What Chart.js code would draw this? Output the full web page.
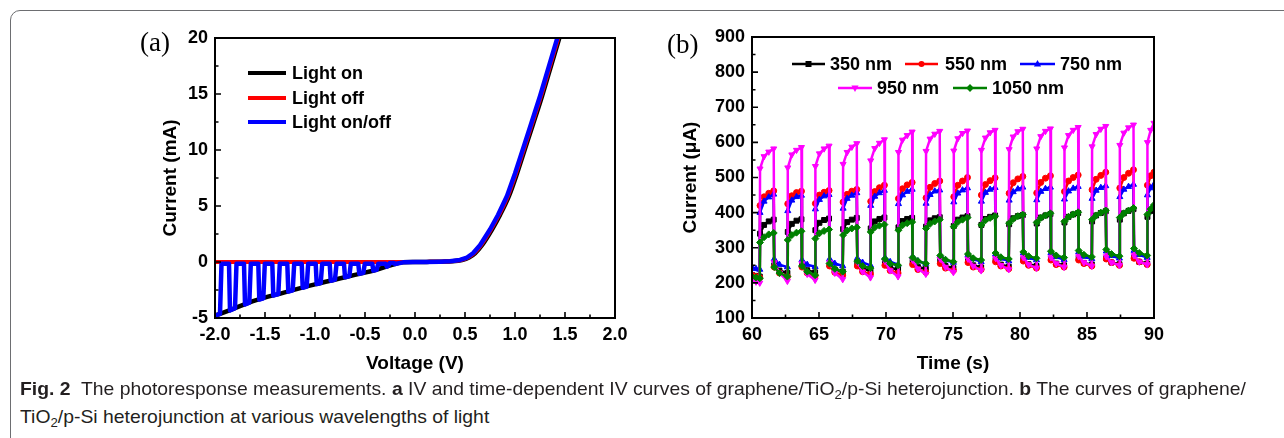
<!DOCTYPE html>
<html>
<head>
<meta charset="utf-8">
<script src="https://cdn.jsdelivr.net/npm/chart.js@4.4.0/dist/chart.umd.min.js"></script>
<style>
html, body { margin: 0; padding: 0; background: #fff; }
#page { position: relative; width: 1284px; height: 438px; overflow: hidden; background: #fff; }
#frame { position: absolute; left: 10px; top: 10px; width: 1320px; height: 480px; border: 1.5px solid #6d6e71; border-radius: 10px; box-sizing: border-box; }
#chartA { position: absolute; left: 0; top: 0; }
#chartB { position: absolute; left: 640px; top: 0; }
.cap { position: absolute; left: 20px; display: inline-block; white-space: nowrap; transform-origin: 0 0;
       font-family: "Liberation Sans Narrow", "Liberation Sans", Arial, sans-serif;
       font-size: 19px; line-height: 20px; color: #231f20; }
.cap sub { font-size: 13px; line-height: 0; vertical-align: -4px; }
</style>
</head>
<body>
<div id="page">
  <div id="frame"></div>
  <canvas id="chartA" width="640" height="380"></canvas>
  <canvas id="chartB" width="644" height="380"></canvas>
  <div class="cap" id="cap1" style="top:379px"><b>Fig. 2</b>&nbsp; The photoresponse measurements. <b>a</b> IV and time-dependent IV curves of graphene/TiO<sub>2</sub>/p-Si heterojunction. <b>b</b> The curves of graphene/</div>
  <div class="cap" id="cap2" style="top:407px">TiO<sub>2</sub>/p-Si heterojunction at various wavelengths of light</div>
</div>
<script>
// ---- panel (a): IV curves ----
const onV = [-2.0, -1.85, -1.62, -1.32, -1.0, -0.65, -0.38, -0.22, -0.12, 0.0, 0.12, 0.27, 0.37, 0.47, 0.54, 0.6, 0.67, 0.77, 0.85, 0.94, 1.02, 1.1, 1.18, 1.27, 1.35, 1.44, 1.47];
const onI = [-4.8, -4.3, -3.5, -2.75, -2.0, -1.25, -0.68, -0.22, -0.03, 0.0, 0.01, 0.03, 0.06, 0.18, 0.4, 0.78, 1.5, 2.9, 4.2, 5.9, 7.9, 10.1, 12.3, 14.8, 17.2, 19.9, 20.8];

const offV = [-2.0, -1.0, -0.12, 0.0, 0.11, 0.26, 0.36, 0.46, 0.53, 0.59, 0.66, 0.76, 0.84, 0.93, 1.01, 1.09, 1.17, 1.26, 1.34, 1.43, 1.46];
const offI = [0, 0, 0, 0.0, 0.01, 0.03, 0.06, 0.18, 0.4, 0.78, 1.5, 2.9, 4.2, 5.9, 7.9, 10.1, 12.3, 14.8, 17.2, 19.9, 20.8];

const onOffV = [-2.0,
  -1.95, -1.935, -1.86, -1.85,
  -1.80, -1.785, -1.71, -1.70,
  -1.657, -1.642, -1.567, -1.557,
  -1.517, -1.502, -1.427, -1.417,
  -1.367, -1.352, -1.277, -1.267,
  -1.223, -1.208, -1.133, -1.123,
  -1.083, -1.068, -0.993, -0.983,
  -0.943, -0.928, -0.853, -0.843,
  -0.80, -0.785, -0.71, -0.70,
  -0.657, -0.642, -0.567, -0.557,
  -0.517, -0.502, -0.427, -0.417,
  -0.383, -0.368, -0.293, -0.283,
  -0.267, -0.252, -0.21, -0.20,
  -0.12, 0.0, 0.1, 0.25, 0.35, 0.45, 0.52, 0.58, 0.65, 0.75, 0.83, 0.92, 1.0, 1.08, 1.16, 1.25, 1.33, 1.42, 1.45];
const onOffI = [-4.8,
  -4.63, -0.15, -0.15, -4.32,
  -4.13, -0.15, -0.15, -3.80,
  -3.63, -0.15, -0.15, -3.355,
  -3.24, -0.15, -0.15, -3.0,
  -2.87, -0.15, -0.15, -2.64,
  -2.52, -0.15, -0.15, -2.30,
  -2.19, -0.15, -0.15, -1.97,
  -1.88, -0.15, -0.15, -1.67,
  -1.57, -0.15, -0.15, -1.37,
  -1.265, -0.15, -0.15, -1.06,
  -0.97, -0.15, -0.15, -0.77,
  -0.69, -0.15, -0.15, -0.415,
  -0.355, -0.1, -0.1, -0.18,
  -0.03, 0.0, 0.01, 0.03, 0.06, 0.18, 0.4, 0.78, 1.5, 2.9, 4.2, 5.9, 7.9, 10.1, 12.3, 14.8, 17.2, 19.9, 20.8];

// ---- panel (b): photoresponse vs time ----
const time = [
  60.00, 60.30, 60.58,
  60.60, 60.90, 61.25, 61.62, 61.66, 62.05, 62.64,
  62.67, 62.97, 63.32, 63.69, 63.73, 64.12, 64.71,
  64.73, 65.03, 65.38, 65.75, 65.79, 66.18, 66.77,
  66.80, 67.10, 67.45, 67.82, 67.86, 68.25, 68.84,
  68.86, 69.16, 69.51, 69.88, 69.92, 70.31, 70.90,
  70.93, 71.23, 71.58, 71.95, 71.99, 72.38, 72.97,
  72.99, 73.29, 73.64, 74.01, 74.05, 74.44, 75.03,
  75.06, 75.36, 75.71, 76.08, 76.12, 76.51, 77.10,
  77.12, 77.42, 77.77, 78.14, 78.18, 78.57, 79.16,
  79.19, 79.49, 79.84, 80.21, 80.25, 80.64, 81.23,
  81.25, 81.55, 81.90, 82.27, 82.31, 82.70, 83.29,
  83.32, 83.62, 83.97, 84.34, 84.38, 84.77, 85.36,
  85.38, 85.68, 86.03, 86.40, 86.44, 86.83, 87.42,
  87.45, 87.75, 88.10, 88.47, 88.51, 88.90, 89.49,
  89.51, 89.75, 90.00
];
const nm350 = [
  222, 220, 218,
  340, 365, 375, 380, 250, 235, 228,
  345, 368, 377, 381, 250, 236, 230,
  350, 371, 379, 383, 252, 238, 232,
  353, 373, 380, 385, 255, 240, 235,
  355, 375, 382, 386, 258, 243, 238,
  358, 376, 382, 385, 260, 245, 240,
  360, 378, 384, 387, 262, 248, 242,
  362, 380, 386, 390, 264, 250, 244,
  365, 382, 388, 392, 265, 252, 246,
  367, 384, 390, 393, 266, 253, 248,
  369, 386, 392, 396, 268, 255, 250,
  372, 388, 395, 399, 270, 257, 252,
  375, 392, 399, 404, 270, 258, 253,
  380, 398, 405, 410, 272, 260, 255,
  388, 405, 415
];
const nm550 = [
  222, 218, 215,
  420, 445, 455, 462, 245, 228, 218,
  425, 448, 457, 461, 245, 228, 220,
  426, 450, 458, 463, 248, 230, 222,
  430, 452, 461, 466, 248, 232, 225,
  432, 460, 471, 478, 250, 235, 228,
  440, 468, 479, 486, 252, 238, 230,
  442, 472, 483, 490, 255, 242, 235,
  445, 478, 490, 500, 258, 245, 238,
  450, 480, 491, 499, 260, 248, 240,
  455, 485, 496, 503, 262, 250, 242,
  456, 486, 498, 505, 265, 252, 245,
  460, 490, 500, 507, 265, 255, 248,
  465, 495, 506, 515, 268, 258, 250,
  470, 500, 512, 522, 270, 260, 252,
  478, 505, 515
];
const nm750 = [
  245, 240, 238,
  400, 432, 444, 452, 268, 252, 245,
  405, 435, 445, 449, 265, 252, 246,
  410, 437, 447, 451, 268, 255, 248,
  412, 440, 449, 456, 270, 258, 250,
  420, 446, 456, 463, 272, 260, 252,
  425, 450, 460, 466, 275, 262, 255,
  426, 451, 461, 464, 278, 265, 258,
  430, 455, 464, 470, 280, 268, 260,
  432, 457, 466, 471, 282, 270, 262,
  435, 459, 467, 472, 285, 272, 265,
  436, 460, 468, 472, 285, 274, 266,
  438, 461, 469, 474, 288, 275, 268,
  440, 463, 471, 476, 290, 277, 270,
  445, 466, 474, 480, 292, 280, 272,
  450, 470, 480
];
const nm950 = [
  210, 203, 200,
  525, 560, 573, 582, 258, 228, 205,
  528, 565, 578, 586, 255, 225, 208,
  532, 568, 582, 590, 258, 228, 210,
  538, 572, 587, 597, 260, 232, 215,
  548, 583, 598, 608, 262, 235, 218,
  572, 607, 620, 630, 265, 240, 225,
  575, 610, 624, 632, 268, 245, 230,
  576, 611, 626, 633, 268, 248, 235,
  578, 613, 628, 635, 270, 250, 238,
  580, 616, 631, 638, 272, 252, 242,
  582, 617, 632, 639, 272, 255, 245,
  585, 620, 635, 643, 275, 258, 248,
  588, 623, 638, 646, 275, 258, 250,
  592, 627, 642, 650, 278, 260, 252,
  600, 635, 655
];
const nm1050 = [
  218, 215, 213,
  315, 330, 338, 342, 245, 228, 218,
  322, 336, 343, 347, 248, 232, 222,
  326, 341, 348, 352, 255, 240, 232,
  336, 349, 355, 358, 262, 248, 242,
  345, 358, 363, 366, 268, 255, 250,
  350, 364, 370, 373, 272, 262, 255,
  355, 368, 375, 380, 278, 266, 260,
  360, 373, 380, 386, 282, 270, 265,
  365, 378, 385, 390, 285, 273, 268,
  370, 382, 390, 394, 288, 276, 270,
  372, 385, 392, 398, 290, 278, 272,
  375, 388, 395, 401, 292, 280, 274,
  380, 392, 400, 406, 295, 282, 276,
  386, 398, 406, 413, 298, 285, 278,
  395, 410, 422
];

const pts = (xs, ys) => xs.map((x, i) => ({ x, y: ys[i] }));
const family = '"Liberation Sans", Arial, Helvetica, sans-serif';
const tickFont = { family, size: 18, weight: 'bold' };
const titleFont = { family, size: 19, weight: 'bold' };

function drawMarker(ctx, kind, x, y, r, color) {
    ctx.fillStyle = color;
    ctx.beginPath();
    if (kind === 'rect') ctx.rect(x - r, y - r, 2 * r, 2 * r);
    else if (kind === 'circle') ctx.arc(x, y, r, 0, Math.PI * 2);
    else if (kind === 'up') { ctx.moveTo(x, y - r * 1.3); ctx.lineTo(x + r * 1.2, y + r * 0.8); ctx.lineTo(x - r * 1.2, y + r * 0.8); ctx.closePath(); }
    else if (kind === 'down') { ctx.moveTo(x, y + r * 1.3); ctx.lineTo(x + r * 1.2, y - r * 0.8); ctx.lineTo(x - r * 1.2, y - r * 0.8); ctx.closePath(); }
    else if (kind === 'diamond') { ctx.moveTo(x, y - r * 1.3); ctx.lineTo(x + r * 1.3, y); ctx.lineTo(x, y + r * 1.3); ctx.lineTo(x - r * 1.3, y); ctx.closePath(); }
    ctx.fill();
}

// box, inward ticks, legend and panel letter
const decor = {
    id: 'decor',
    afterDatasetsDraw(chart, args, opts) {
        const { ctx, chartArea: a, scales: { x, y } } = chart;
        ctx.save();
        ctx.strokeStyle = '#000';
        ctx.lineWidth = 2;
        ctx.strokeRect(a.left, a.top, a.right - a.left, a.bottom - a.top);

        ctx.lineWidth = 1.6;
        ctx.beginPath();
        for (let i = 0, v = x.min; v <= x.max + 1e-9; i++, v = x.min + i * opts.xMinor) {
            const px = x.getPixelForValue(v);
            const len = i % 2 === 0 ? 6 : 3.5;
            ctx.moveTo(px, a.bottom); ctx.lineTo(px, a.bottom - len);
        }
        for (let i = 0, v = y.min; v <= y.max + 1e-9; i++, v = y.min + i * opts.yMinor) {
            const py = y.getPixelForValue(v);
            const len = i % 2 === 0 ? 6 : 3.5;
            ctx.moveTo(a.left, py); ctx.lineTo(a.left + len, py);
        }
        ctx.stroke();

        ctx.font = 'bold 18px ' + family;
        ctx.textBaseline = 'middle';
        ctx.textAlign = 'left';
        for (const it of opts.legend) {
            ctx.strokeStyle = it.color;
            ctx.lineWidth = it.width;
            ctx.beginPath();
            ctx.moveTo(it.x1, it.y); ctx.lineTo(it.x2, it.y);
            ctx.stroke();
            if (it.marker) drawMarker(ctx, it.marker, (it.x1 + it.x2) / 2, it.y, 3, it.color);
            ctx.fillStyle = '#000';
            ctx.fillText(it.label, it.tx, it.y + 1);
        }

        ctx.font = '27px "Liberation Serif", "Times New Roman", serif';
        ctx.fillStyle = '#000';
        ctx.fillText(opts.letter.text, opts.letter.x, opts.letter.y);
        ctx.restore();
    },
};

Chart.defaults.font.family = family;
Chart.defaults.color = '#000';

new Chart(document.getElementById('chartA'), {
    type: 'scatter',
    data: {
        datasets: [
            { label: 'Light on', data: pts(onV, onI), showLine: true, borderColor: '#000', borderWidth: 4.5, pointRadius: 0, cubicInterpolationMode: 'monotone', order: 3 },
            { label: 'Light off', data: pts(offV, offI), showLine: true, borderColor: '#ff0000', borderWidth: 4, pointRadius: 0, cubicInterpolationMode: 'monotone', order: 2 },
            { label: 'Light on/off', data: pts(onOffV, onOffI), showLine: true, borderColor: '#0000ff', borderWidth: 4.5, borderJoinStyle: 'round', pointRadius: 0, tension: 0, order: 1 },
        ],
    },
    options: {
        responsive: false,
        animation: false,
        devicePixelRatio: 1,
        layout: { padding: { left: 155, top: 38, right: 25, bottom: 0 } },
        plugins: {
            legend: { display: false },
            tooltip: { enabled: false },
            decor: {
                xMinor: 0.25,
                yMinor: 2.5,
                letter: { text: '(a)', x: 140, y: 44 },
                legend: [
                    { label: 'Light on', color: '#000', width: 4, x1: 248, x2: 286, tx: 292, y: 73 },
                    { label: 'Light off', color: '#ff0000', width: 4, x1: 248, x2: 286, tx: 292, y: 98 },
                    { label: 'Light on/off', color: '#0000ff', width: 4, x1: 248, x2: 286, tx: 292, y: 122 },
                ],
            },
        },
        scales: {
            x: {
                type: 'linear', min: -2, max: 2,
                ticks: { stepSize: 0.5, font: tickFont, color: '#000', padding: 6, maxRotation: 0, callback: (v) => Number(v).toFixed(1) },
                grid: { display: false, drawTicks: false },
                border: { display: false },
                title: { display: true, text: 'Voltage (V)', font: titleFont, color: '#000', padding: { top: 0, bottom: 5 } },
                afterFit: (s) => { s.height = 62; },
            },
            y: {
                type: 'linear', min: -5, max: 20,
                ticks: { stepSize: 5, font: tickFont, color: '#000', padding: 7 },
                grid: { display: false, drawTicks: false },
                border: { display: false },
                title: { display: true, text: 'Current (mA)', font: titleFont, color: '#000', padding: { top: 4, bottom: 0 } },
                afterFit: (s) => { s.width = 60; },
            },
        },
    },
    plugins: [decor],
});

const series = [
    { label: '350 nm', values: nm350, color: '#000000', style: 'rect', rot: 0, r: 3.5, order: 5 },
    { label: '550 nm', values: nm550, color: '#ff0000', style: 'circle', rot: 0, r: 3, order: 4 },
    { label: '750 nm', values: nm750, color: '#0000ff', style: 'triangle', rot: 0, r: 3.5, order: 3 },
    { label: '950 nm', values: nm950, color: '#ff00ff', style: 'triangle', rot: 180, r: 3.5, order: 2 },
    { label: '1050 nm', values: nm1050, color: '#008000', style: 'rectRot', rot: 0, r: 3.5, order: 1 },
];

new Chart(document.getElementById('chartB'), {
    type: 'scatter',
    data: {
        datasets: series.map((s) => ({
            label: s.label,
            data: pts(time, s.values),
            showLine: true,
            borderColor: s.color,
            backgroundColor: s.color,
            borderWidth: 2.5,
            tension: 0,
            pointStyle: s.style,
            rotation: s.rot,
            pointRadius: s.r,
            pointBorderWidth: 1,
            order: s.order,
        })),
    },
    options: {
        responsive: false,
        animation: false,
        devicePixelRatio: 1,
        layout: { padding: { left: 35, top: 37, right: 130, bottom: 0 } },
        plugins: {
            legend: { display: false },
            tooltip: { enabled: false },
            decor: {
                xMinor: 2.5,
                yMinor: 50,
                letter: { text: '(b)', x: 27, y: 46 },
                legend: [
                    { label: '350 nm', color: '#000000', width: 2.5, marker: 'rect', x1: 152, x2: 185, tx: 190, y: 64 },
                    { label: '550 nm', color: '#ff0000', width: 2.5, marker: 'circle', x1: 265, x2: 298, tx: 305, y: 64 },
                    { label: '750 nm', color: '#0000ff', width: 2.5, marker: 'up', x1: 380, x2: 415, tx: 420, y: 64 },
                    { label: '950 nm', color: '#ff00ff', width: 2.5, marker: 'down', x1: 198, x2: 232, tx: 237, y: 88 },
                    { label: '1050 nm', color: '#008000', width: 2.5, marker: 'diamond', x1: 313, x2: 347, tx: 352, y: 88 },
                ],
            },
        },
        scales: {
            x: {
                type: 'linear', min: 60, max: 90,
                ticks: { stepSize: 5, font: tickFont, color: '#000', padding: 6, maxRotation: 0 },
                grid: { display: false, drawTicks: false },
                border: { display: false },
                title: { display: true, text: 'Time (s)', font: titleFont, color: '#000', padding: { top: 0, bottom: 5 } },
                afterFit: (s) => { s.height = 62; },
            },
            y: {
                type: 'linear', min: 100, max: 900,
                ticks: { stepSize: 100, font: tickFont, color: '#000', padding: 7 },
                grid: { display: false, drawTicks: false },
                border: { display: false },
                title: { display: true, text: 'Current (μA)', font: titleFont, color: '#000', padding: { top: 4, bottom: 0 } },
                afterFit: (s) => { s.width = 77; },
            },
        },
    },
    plugins: [decor],
});

// squeeze the caption to the width of the printed one
const cap1 = document.getElementById('cap1');
const cap2 = document.getElementById('cap2');
const k = 1226 / cap1.getBoundingClientRect().width;
cap1.style.transform = `scaleX(${k})`;
cap2.style.transform = `scaleX(${k})`;
</script>
</body>
</html>
